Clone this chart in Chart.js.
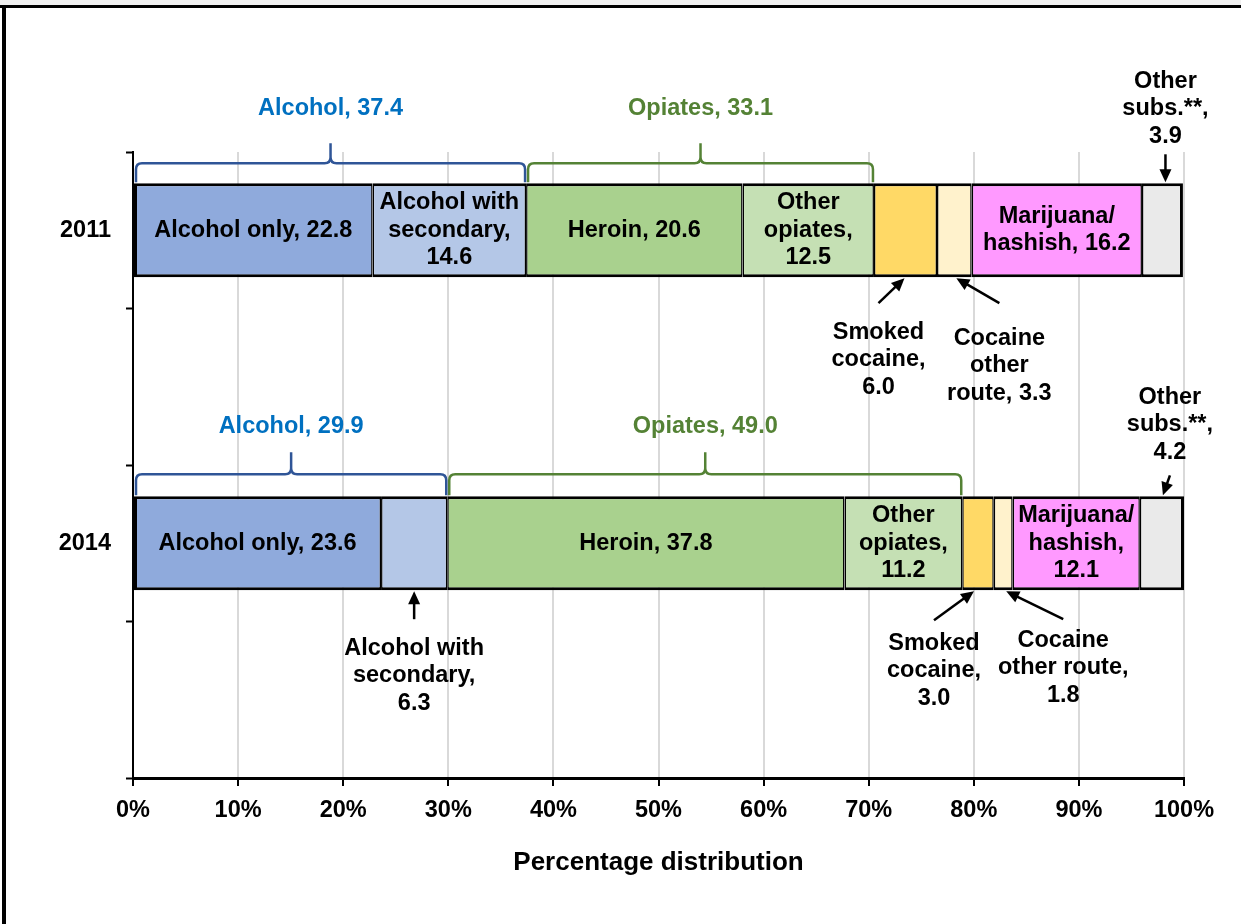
<!DOCTYPE html>
<html>
<head>
<meta charset="utf-8">
<title>Primary substance at admission, 2011 and 2014</title>
<script src="https://cdn.jsdelivr.net/npm/chart.js"></script>
<style>
  body { margin: 0; background: #fff; }
  #wrap { position: relative; width: 1241px; height: 924px; }
  .edge { position: absolute; }
  #strip { top: 0; left: 0; width: 1241px; height: 5px; background: #f0f0f0; }
  #topline { top: 5px; left: 0; width: 1241px; height: 3px; background: #000; }
  #leftline { top: 5px; left: 2px; width: 4px; height: 919px; background: #000; }
</style>
</head>
<body>
<div id="wrap">
  <canvas id="chart"></canvas>
  <div class="edge" id="strip"></div>
  <div class="edge" id="topline"></div>
  <div class="edge" id="leftline"></div>
</div>
<script>
// rows on the category axis (the blank rows keep the spacing between the two bars)
const categories = ['2011', '', '2014', ''];
const substances = ['Alcohol only', 'Alcohol with secondary', 'Heroin', 'Other opiates',
  'Smoked cocaine', 'Cocaine other route', 'Marijuana/hashish', 'Other subs.**'];
const values2011 = [22.8, 14.6, 20.6, 12.5, 6.0, 3.3, 16.2, 3.9];
const values2014 = [23.6, 6.3, 37.8, 11.2, 3.0, 1.8, 12.1, 4.2];
const colors = ['#8FAADC', '#B4C7E7', '#A9D18E', '#C5E0B4', '#FFD966', '#FFF2CC', '#FF99FF', '#EAEAEA'];
const xTicks = [0, 10, 20, 30, 40, 50, 60, 70, 80, 90, 100];

// how each segment label is broken into lines, {v} is the value
const lines2011 = [
  ['Alcohol only, {v}'], ['Alcohol with', 'secondary,', '{v}'], ['Heroin, {v}'],
  ['Other', 'opiates,', '{v}'], ['Smoked', 'cocaine,', '{v}'], ['Cocaine', 'other', 'route, {v}'],
  ['Marijuana/', 'hashish, {v}'], ['Other', 'subs.**,', '{v}']
];
const lines2014 = [
  ['Alcohol only, {v}'], ['Alcohol with', 'secondary,', '{v}'], ['Heroin, {v}'],
  ['Other', 'opiates,', '{v}'], ['Smoked', 'cocaine,', '{v}'], ['Cocaine', 'other route,', '{v}'],
  ['Marijuana/', 'hashish,', '{v}'], ['Other', 'subs.**,', '{v}']
];

// groups marked with a brace above each bar
const groups = [
  { name: 'Alcohol', from: 0, to: 1, line: '#2F5597', text: '#0070C0' },
  { name: 'Opiates', from: 2, to: 3, line: '#548235', text: '#548235' }
];

const FONT = '"Liberation Sans", Arial, sans-serif';
const LH = 27.5;

// labels placed outside the bar with an arrow: [side, headDx, tailDx, tailDy, textDy]
const callouts = [
  { 4: ['below', -1, -27, 26, 55], 5: ['below', 2, 45, 26, 61], 7: ['above', 3, 3, 29, 47] },
  { 1: ['below', 0, 0, 29, 58], 4: ['below', -4, -44, 30, 53], 5: ['below', 3, 60, 29, 50], 7: ['above', 1, 8, 21, 44] }
];
const braceDims = [{ h: 20, peak: 40, label: 75 }, { h: 22, peak: 44, label: 70 }];

const rows = [
  { index: 0, values: values2011, lines: lines2011 },
  { index: 2, values: values2014, lines: lines2014 }
];

function fill(line, v) { return line.replace('{v}', v.toFixed(1)); }

function arrow(ctx, x0, y0, x1, y1) {
  const a = Math.atan2(y1 - y0, x1 - x0);
  const len = 13, w = 6;
  ctx.beginPath();
  ctx.moveTo(x0, y0);
  ctx.lineTo(x1 - Math.cos(a) * len * 0.8, y1 - Math.sin(a) * len * 0.8);
  ctx.stroke();
  ctx.beginPath();
  ctx.moveTo(x1, y1);
  ctx.lineTo(x1 - Math.cos(a) * len - Math.sin(a) * w, y1 - Math.sin(a) * len + Math.cos(a) * w);
  ctx.lineTo(x1 - Math.cos(a) * len + Math.sin(a) * w, y1 - Math.sin(a) * len - Math.cos(a) * w);
  ctx.closePath();
  ctx.fill();
}

function brace(ctx, x0, x1, yEnd, yH, yPeak) {
  const r = 6, xm = (x0 + x1) / 2;
  ctx.beginPath();
  ctx.moveTo(x0, yEnd);
  ctx.lineTo(x0, yH + r);
  ctx.quadraticCurveTo(x0, yH, x0 + r, yH);
  ctx.lineTo(xm - r, yH);
  ctx.quadraticCurveTo(xm, yH, xm, yH - r);
  ctx.lineTo(xm, yPeak);
  ctx.moveTo(xm, yH - r);
  ctx.quadraticCurveTo(xm, yH, xm + r, yH);
  ctx.lineTo(x1 - r, yH);
  ctx.quadraticCurveTo(x1, yH, x1, yH + r);
  ctx.lineTo(x1, yEnd);
  ctx.stroke();
}

const segmentLabels = {
  id: 'segmentLabels',
  afterDatasetsDraw(chart) {
    const ctx = chart.ctx;
    ctx.save();
    ctx.font = 'bold 23.5px ' + FONT;
    ctx.textAlign = 'center';
    ctx.textBaseline = 'middle';
    ctx.lineWidth = 2.5;
    rows.forEach((row, r) => {
      const els = substances.map((s, d) => chart.getDatasetMeta(d).data[row.index]);
      els.forEach((el, d) => {
        const cx = (el.x + el.base) / 2;
        const top = el.y - el.height / 2, bottom = el.y + el.height / 2;
        const text = row.lines[d].map(l => fill(l, row.values[d]));
        const c = callouts[r][d];
        ctx.fillStyle = '#000';
        ctx.strokeStyle = '#000';
        if (!c) {
          const y0 = el.y - (text.length - 1) * LH / 2;
          text.forEach((t, i) => ctx.fillText(t, cx, y0 + i * LH));
          return;
        }
        const [side, headDx, tailDx, tailDy, textDy] = c;
        if (side === 'below') {
          arrow(ctx, cx + tailDx, bottom + tailDy, cx + headDx, bottom + 1);
          text.forEach((t, i) => ctx.fillText(t, cx + tailDx, bottom + textDy + i * LH));
        } else {
          arrow(ctx, cx + tailDx, top - tailDy, cx + headDx, top - 1);
          const n = text.length;
          text.forEach((t, i) => ctx.fillText(t, cx + tailDx, top - textDy - (n - 1 - i) * LH));
        }
      });
      // braces over the alcohol and opiate groups
      const dim = braceDims[r];
      const top = els[0].y - els[0].height / 2;
      groups.forEach(g => {
        const x0 = els[g.from].base + 2, x1 = els[g.to].x - 1;
        const total = row.values.slice(g.from, g.to + 1).reduce((a, b) => a + b, 0);
        ctx.strokeStyle = g.line;
        brace(ctx, x0, x1, top - 1, top - dim.h, top - dim.peak);
        ctx.fillStyle = g.text;
        ctx.fillText(g.name + ', ' + total.toFixed(1), (x0 + x1) / 2, top - dim.label);
      });
    });
    ctx.restore();
  }
};

const last = substances.length - 1;
const datasets = substances.map((s, d) => ({
  label: s,
  data: [values2011[d], null, values2014[d], null],
  backgroundColor: colors[d],
  borderColor: '#000',
  // shared edges between segments add up, outer edges get the full width
  borderWidth: { top: 3, bottom: 3, left: d === 0 ? 3 : 1.5, right: d === last ? 3 : 1.5 },
  borderSkipped: false,
  barPercentage: 0.6,
  categoryPercentage: 1
}));

new Chart(document.getElementById('chart').getContext('2d'), {
  type: 'bar',
  data: { labels: categories, datasets: datasets },
  options: {
    indexAxis: 'y',
    responsive: true,
    maintainAspectRatio: false,
    animation: false,
    layout: { padding: { top: 152, right: 57, left: 0, bottom: 0 } },
    plugins: { legend: { display: false }, tooltip: { enabled: false } },
    scales: {
      x: {
        stacked: true,
        min: 0,
        max: 100,
        afterBuildTicks: scale => { scale.ticks = xTicks.map(v => ({ value: v })); },
        afterFit: scale => { scale.height = 146; },
        grid: { color: '#D9D9D9', lineWidth: 2, tickColor: '#000', tickWidth: 2, tickLength: 8 },
        border: { color: '#000', width: 3 },
        ticks: {
          color: '#000',
          padding: 10,
          font: { family: FONT, size: 23.5, weight: 'bold' },
          callback: v => v + '%'
        },
        title: {
          display: true,
          text: 'Percentage distribution',
          color: '#000',
          font: { family: FONT, size: 26, weight: 'bold' },
          padding: { top: 0, bottom: 46 }
        }
      },
      y: {
        stacked: true,
        afterFit: scale => { scale.width = 133; },
        grid: { offset: true, drawOnChartArea: false, tickColor: '#000', tickWidth: 2, tickLength: 7 },
        border: { color: '#000', width: 2 },
        ticks: {
          color: '#000',
          padding: 15,
          font: { family: FONT, size: 23.5, weight: 'bold' }
        }
      }
    }
  },
  plugins: [segmentLabels]
});
</script>
</body>
</html>
